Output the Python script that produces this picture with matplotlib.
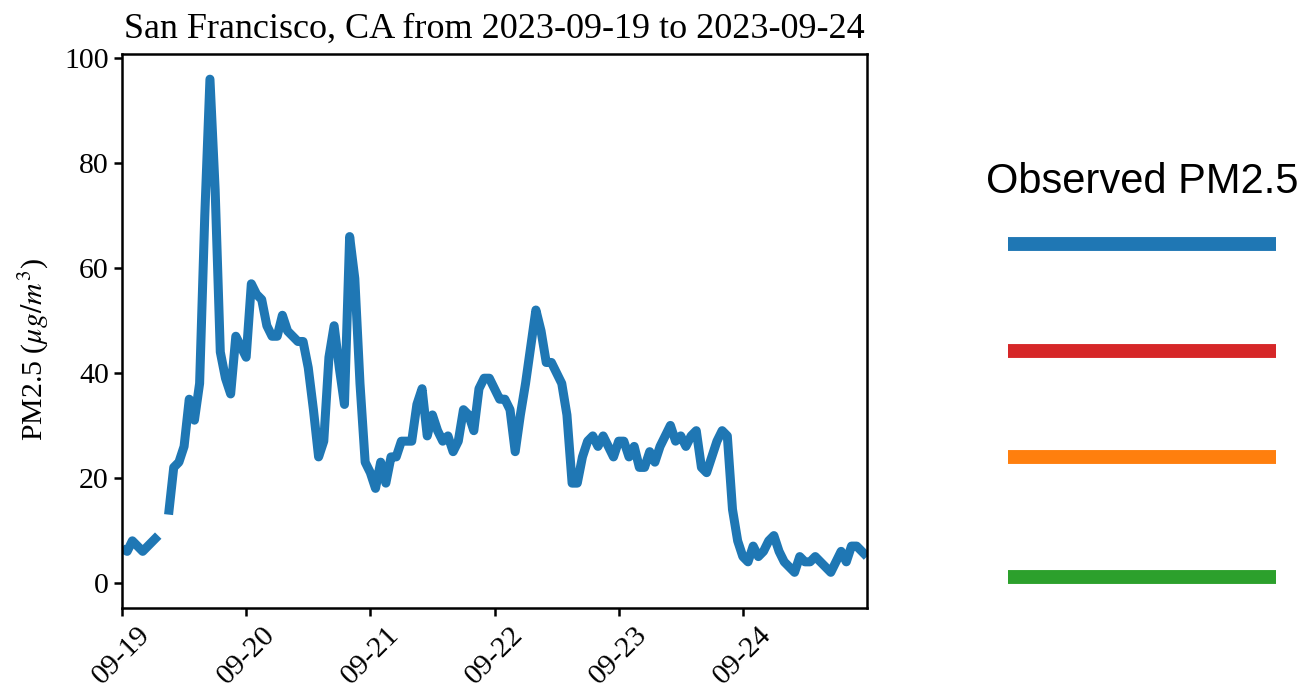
import matplotlib
matplotlib.use("Agg")
import matplotlib.pyplot as plt
import matplotlib.dates as mdates
import numpy as np
import pandas as pd

# Hourly PM2.5 readings, San Francisco, 2023-09-19 00:00 -> 2023-09-25 00:00
nan = np.nan
pm25 = [
    6.5, 6, 8, 7, 6, 7, 8, 9, nan, 13,
    22, 23, 26, 35, 31, 38, 70, 96, 75, 44,
    39, 36, 47, 45, 43, 57, 55, 54, 49, 47,
    47, 51, 48, 47, 46, 46, 41, 33, 24, 27,
    43, 49, 41, 34, 66, 58, 38, 23, 21, 18,
    23, 19, 24, 24, 27, 27, 27, 34, 37, 28,
    32, 29, 27, 28, 25, 27, 33, 32, 29, 37,
    39, 39, 37, 35, 35, 33, 25, 32, 38, 45,
    52, 48, 42, 42, 40, 38, 32, 19, 19, 24,
    27, 28, 26, 28, 26, 24, 27, 27, 24, 26,
    22, 22, 25, 23, 26, 28, 30, 27, 28, 26,
    28, 29, 22, 21, 24, 27, 29, 28, 14, 8,
    5, 4, 7, 5, 6, 8, 9, 6, 4, 3,
    2, 5, 4, 4, 5, 4, 3, 2, 4, 6,
    4, 7, 7, 6, 5,
]
start = "2023-09-19"
tick_days = ["2023-09-19", "2023-09-20", "2023-09-21",
             "2023-09-22", "2023-09-23", "2023-09-24"]
yticks = [0, 20, 40, 60, 80, 100]
title = "San Francisco, CA from 2023-09-19 to 2023-09-24"
legend_title = "Observed PM2.5"
legend_colors = ["#1f77b4", "#d62728", "#ff7f0e", "#2ca02c"]

times = pd.date_range(start, periods=len(pm25), freq="h")

plt.rcParams["font.family"] = ["Liberation Serif", "DejaVu Serif"]
plt.rcParams["mathtext.fontset"] = "stix"

W, H = 1304, 691
fig = plt.figure(figsize=(W / 100, H / 100), dpi=100)

# main panel
ax = fig.add_axes([122 / W, 1 - 608 / H, (867 - 122) / W, (608 - 54) / H])
ax.plot(times, pm25, color="#1f77b4", lw=6.5, solid_capstyle="butt")
ax.set_xlim(times[0], times[-1])
ax.set_ylim(-4.8, 100.8)
ax.set_yticks(yticks)
ax.set_xticks(pd.to_datetime(tick_days))
ax.xaxis.set_major_formatter(mdates.DateFormatter("%m-%d"))
ax.tick_params(labelsize=21.5, width=1.8, length=6)
for lab in ax.get_xticklabels():
    lab.set_rotation(45)
for sp in ax.spines.values():
    sp.set_linewidth(1.8)
ax.set_ylabel(r"PM2.5 ($\mu g/m^3$)", fontsize=21.5)
ax.yaxis.set_label_coords(-0.095, 0.467)
ax.set_title(title, fontsize=26, pad=12)

# right-hand key
key_y = [1 - 244 / H, 1 - 351 / H, 1 - 457 / H, 1 - 577 / H]
ax2 = fig.add_axes([1008 / W, 0, (1276 - 1008) / W, 1])
ax2.set_xlim(0, 1)
ax2.set_ylim(0, 1)
ax2.axis("off")
for y, c in zip(key_y, legend_colors):
    ax2.hlines(y, 0, 1, color=c, lw=10, capstyle="butt")
fig.text(1142 / W, 1 - 182 / H, legend_title, ha="center", va="center",
         fontsize=30, family="Liberation Sans")

fig.savefig("out.png", dpi=100)
